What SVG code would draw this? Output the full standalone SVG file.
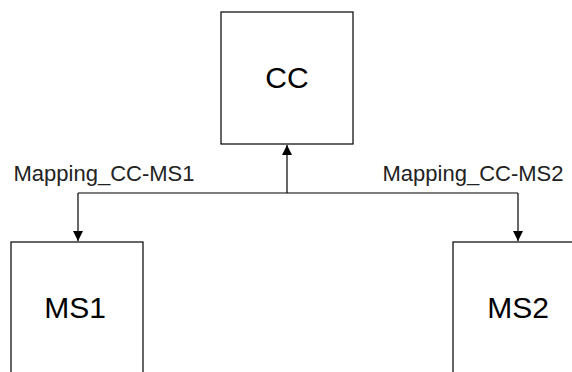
<svg xmlns="http://www.w3.org/2000/svg" width="572" height="372" viewBox="0 0 572 372">
<style>
.box{fill:#fff;stroke:#000;stroke-width:1.2}
.t{font-family:"Liberation Sans",Arial,sans-serif;fill:#000;text-anchor:middle}
.big{font-size:30px}
.lbl{font-size:22px;fill:#222}
.ln{fill:none;stroke:#000;stroke-width:1.2}
</style>
<defs>
<marker id="ah" markerWidth="12" markerHeight="12" refX="10" refY="5" orient="auto" markerUnits="userSpaceOnUse">
<path d="M0,0 L10,5 L0,10 z" fill="#000"/>
</marker>
</defs>
<rect width="572" height="372" fill="#fff"/>
<g id="CC">
<rect class="box" x="221" y="12" width="132" height="132"/>
<text class="t big" x="287" y="88">CC</text>
</g>
<g id="MS1">
<rect class="box" x="11" y="242" width="132" height="140"/>
<text class="t big" x="75" y="318">MS1</text>
</g>
<g id="MS2">
<rect class="box" x="453" y="242" width="140" height="140"/>
<text class="t big" x="518" y="318">MS2</text>
</g>
<g id="connectors">
<line class="ln" x1="78" y1="193" x2="518" y2="193"/>
<line class="ln" x1="287" y1="193" x2="287" y2="145" marker-end="url(#ah)"/>
<line class="ln" x1="78" y1="193" x2="78" y2="241" marker-end="url(#ah)"/>
<line class="ln" x1="518" y1="193" x2="518" y2="241" marker-end="url(#ah)"/>
<text class="t lbl" x="104" y="181">Mapping_CC-MS1</text>
<text class="t lbl" x="473" y="181">Mapping_CC-MS2</text>
</g>
</svg>
